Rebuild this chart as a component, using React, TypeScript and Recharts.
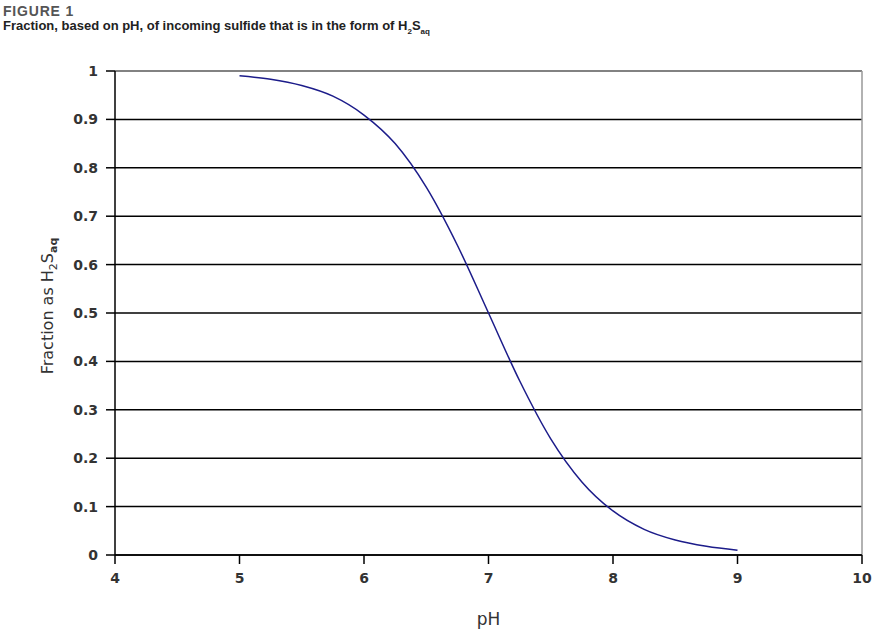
import { CartesianGrid, Label, Line, LineChart, ReferenceLine, XAxis, YAxis } from "recharts";

const PH = [5, 5.25, 5.5, 5.75, 6, 6.25, 6.5, 6.75, 7, 7.25, 7.5, 7.75, 8, 8.25, 8.5, 8.75, 9];
const FRACTION = [0.99, 0.983, 0.97, 0.948, 0.909, 0.85, 0.76, 0.64, 0.5, 0.36, 0.24, 0.151, 0.091, 0.053, 0.031, 0.018, 0.01];
const X_TICKS = [4, 5, 6, 7, 8, 9, 10];
const Y_TICKS = [0, 0.1, 0.2, 0.3, 0.4, 0.5, 0.6, 0.7, 0.8, 0.9, 1];

const data = PH.map((ph, i) => ({ ph, frac: FRACTION[i] }));

const FONT = "'Liberation Sans', Arial, sans-serif";
const TICK_FONT = "'DejaVu Sans', sans-serif";
const TEXT = "#333";
const LINE = "#1c1c8a";

function YLabel() {
  const cx = 53;
  const cy = 306;
  return (
    <text
      x={cx}
      y={cy}
      transform={`rotate(-90, ${cx}, ${cy})`}
      textAnchor="middle"
      fontSize={16}
      fontFamily={TICK_FONT}
      fill="#333"
    >
      Fraction as H
      <tspan fontSize={11} dy={4}>2</tspan>
      <tspan dy={-4}>S</tspan>
      <tspan fontSize={11} dy={4} fontWeight="bold">aq</tspan>
    </text>
  );
}

function XLabel({ viewBox }: any) {
  return (
    <text
      x={viewBox.x + viewBox.width / 2}
      y={625}
      textAnchor="middle"
      fontSize={17}
      fontFamily={TICK_FONT}
      fill="#333"
    >
      pH
    </text>
  );
}

export default function App() {
  return (
    <div style={{ position: "fixed", left: 0, top: 0, width: 874, height: 629, background: "#fff" }}>
      <div
        style={{
          position: "absolute",
          left: 3,
          top: 4,
          lineHeight: "14px",
          fontFamily: FONT,
          fontWeight: "bold",
          fontSize: 14,
          letterSpacing: 0.8,
          color: "#555",
        }}
      >
        FIGURE 1
      </div>
      <div
        style={{
          position: "absolute",
          left: 3,
          top: 19,
          lineHeight: "14px",
          fontFamily: FONT,
          fontWeight: "bold",
          fontSize: 13,
          color: "#222",
          whiteSpace: "nowrap",
        }}
      >
        Fraction, based on pH, of incoming sulfide that is in the form of H<sub style={{ fontSize: 8, lineHeight: 0 }}>2</sub>S
        <sub style={{ fontSize: 8, lineHeight: 0 }}>aq</sub>
      </div>
      <div style={{ position: "absolute", left: 0, top: 0 }}>
        <LineChart width={874} height={629} data={data} margin={{ top: 71, right: 12, bottom: 44, left: 55 }}>
          <CartesianGrid vertical={false} stroke="#000" strokeWidth={1.5} />
          <XAxis
            dataKey="ph"
            type="number"
            domain={[4, 10]}
            ticks={X_TICKS}
            tickSize={9}
            tickMargin={9}
            stroke="#000"
            strokeWidth={1.5}
            tick={{ fill: TEXT, fontSize: 14, fontWeight: 600, fontFamily: TICK_FONT }}
          >
            <Label content={<XLabel />} />
          </XAxis>
          <YAxis
            type="number"
            domain={[0, 1]}
            ticks={Y_TICKS}
            width={60}
            tickSize={9}
            tickMargin={8}
            stroke="#000"
            strokeWidth={1.5}
            tick={{ fill: TEXT, fontSize: 14, fontWeight: 600, fontFamily: TICK_FONT }}
          >
            <Label content={<YLabel />} />
          </YAxis>
          <ReferenceLine y={1} stroke="#999" strokeWidth={1.5} />
          <ReferenceLine x={10} stroke="#999" strokeWidth={1.5} />
          <Line
            type="monotone"
            dataKey="frac"
            stroke={LINE}
            strokeWidth={1.5}
            dot={false}
            isAnimationActive={false}
          />
        </LineChart>
      </div>
    </div>
  );
}
